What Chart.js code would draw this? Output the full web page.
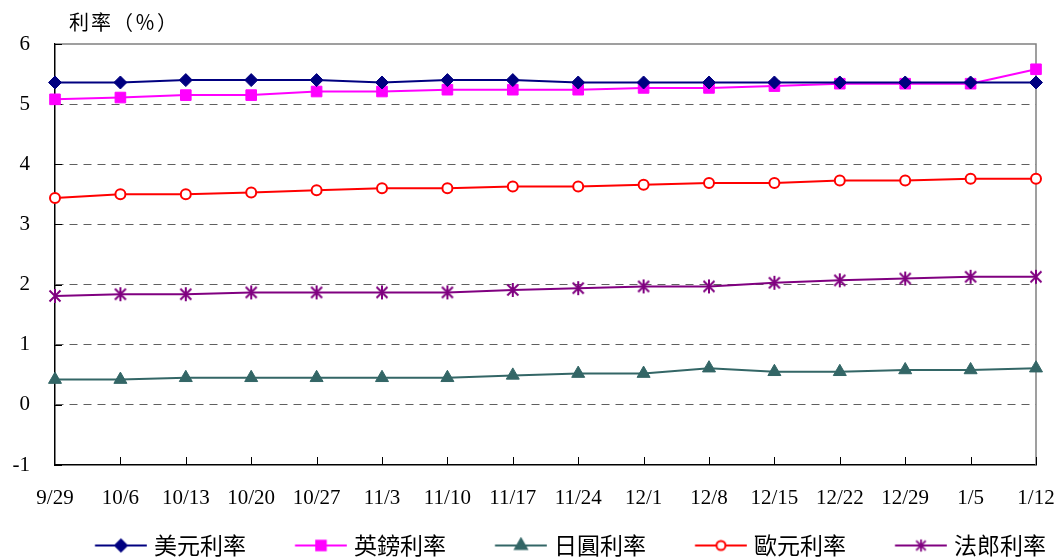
<!DOCTYPE html>
<html lang="zh-Hant">
<head>
<meta charset="UTF-8">
<title>利率</title>
<script src="https://cdn.jsdelivr.net/npm/chart.js"></script>
<style>
  html, body { margin: 0; padding: 0; background: #fff; }
  #wrap { width: 1062px; height: 558px; position: relative; }
</style>
</head>
<body>
<div id="wrap"><canvas id="rateChart"></canvas></div>
<script>
// 週別
const labels = ['9/29','10/6','10/13','10/20','10/27','11/3','11/10','11/17','11/24','12/1','12/8','12/15','12/22','12/29','1/5','1/12'];

// 各幣別利率 (%)
const usdRate = [5.36,5.36,5.40,5.40,5.40,5.36,5.40,5.40,5.36,5.36,5.36,5.36,5.36,5.36,5.36,5.36];
const gbpRate = [5.08,5.11,5.15,5.15,5.21,5.21,5.24,5.24,5.24,5.27,5.27,5.30,5.34,5.34,5.34,5.58];
const jpyRate = [0.42,0.42,0.45,0.45,0.45,0.45,0.45,0.49,0.52,0.52,0.61,0.55,0.55,0.58,0.58,0.61];
const eurRate = [3.44,3.50,3.50,3.53,3.57,3.60,3.60,3.63,3.63,3.66,3.69,3.69,3.73,3.73,3.76,3.76];
const chfRate = [1.81,1.84,1.84,1.87,1.87,1.87,1.87,1.91,1.94,1.97,1.97,2.03,2.07,2.10,2.13,2.13];

const seriesNames = ['美元利率','英鎊利率','日圓利率','歐元利率','法郎利率'];
const yTicks = [-1,0,1,2,3,4,5,6];

const serif = "'Liberation Serif', 'Times New Roman', serif";
const cjk = "'Noto Sans CJK TC', 'Noto Sans CJK SC', sans-serif";

// 法郎的星形標記
function starIcon(color) {
    const c = document.createElement('canvas');
    c.width = 16; c.height = 16;
    const g = c.getContext('2d');
    g.strokeStyle = color;
    g.lineWidth = 2;
    g.beginPath();
    g.moveTo(2.5, 2.5); g.lineTo(13.5, 13.5);
    g.moveTo(13.5, 2.5); g.lineTo(2.5, 13.5);
    g.moveTo(8, 1); g.lineTo(8, 15);
    g.stroke();
    return c;
}

const styles = [
    { color: '#000080', pointStyle: 'rectRot', radius: 6.5, fill: '#000080' },
    { color: '#FF00FF', pointStyle: 'rect', radius: 7.5, fill: '#FF00FF' },
    { color: '#336666', pointStyle: 'triangle', radius: 7.5, fill: '#336666' },
    { color: '#FF0000', pointStyle: 'circle', radius: 5, fill: '#FFFFFF' },
    { color: '#800080', pointStyle: starIcon('#800080'), radius: 6, fill: '#800080' }
];

// 圖例: 線 + 標記 (畫在畫布右側, 與文字間留約 7px)
const LEG_BOX = 86.5, LEG_W = 96, LEG_OFF = 43.75;
function legendIcon(s) {
    const c = document.createElement('canvas');
    c.width = LEG_W; c.height = 18;
    const g = c.getContext('2d');
    g.strokeStyle = s.color;
    g.lineWidth = 2;
    g.beginPath();
    g.moveTo(LEG_OFF, 9); g.lineTo(LEG_OFF + 52, 9);
    g.stroke();
    const cx = LEG_OFF + 26;
    if (typeof s.pointStyle === 'string') {
        g.fillStyle = s.fill;
        g.strokeStyle = s.color;
        g.lineWidth = 2;
        Chart.helpers.drawPoint(g, { pointStyle: s.pointStyle, radius: s.radius * 0.9, borderWidth: 2 }, cx, 9);
    } else {
        g.drawImage(s.pointStyle, cx - 7, 2, 14, 14);
    }
    return c;
}

const seriesData = [usdRate, gbpRate, jpyRate, eurRate, chfRate];

const datasets = seriesData.map((d, i) => ({
    label: seriesNames[i],
    data: d,
    borderColor: styles[i].color,
    backgroundColor: styles[i].fill,
    borderWidth: 2,
    pointStyle: styles[i].pointStyle,
    pointRadius: styles[i].radius,
    pointBorderWidth: i === 3 ? 2 : 1,
    pointBorderColor: styles[i].color,
    pointBackgroundColor: styles[i].fill,
    tension: 0
}));

// 外框與內側刻度
const framePlugin = {
    id: 'frame',
    beforeDatasetsDraw(chart) {
        const { ctx, chartArea: a, scales } = chart;
        ctx.save();
        ctx.strokeStyle = '#808080';
        ctx.lineWidth = 1.5;
        ctx.beginPath();
        ctx.moveTo(a.left, a.top); ctx.lineTo(a.right, a.top); ctx.lineTo(a.right, a.bottom);
        ctx.stroke();
        ctx.strokeStyle = '#000';
        ctx.lineWidth = 1;
        ctx.beginPath();
        scales.y.ticks.forEach(t => {
            const y = Math.round(scales.y.getPixelForValue(t.value)) + 0.5;
            ctx.moveTo(a.left, y); ctx.lineTo(a.left + 7, y);
        });
        for (let i = 1; i < labels.length; i++) {
            const x = Math.round(scales.x.getPixelForValue(i)) + 0.5;
            ctx.moveTo(x, a.bottom); ctx.lineTo(x, a.bottom - 8);
        }
        ctx.stroke();
        ctx.restore();
    },
    afterDraw(chart) {
        const { ctx } = chart;
        ctx.save();
        ctx.font = '20px ' + cjk;
        ctx.letterSpacing = '2px';
        ctx.fillStyle = '#000';
        ctx.textBaseline = 'middle';
        ctx.fillText('利率（％）', 69, 22);
        ctx.restore();
    },
    afterLayout(chart) {
        const lg = chart.legend;
        lg.left += 33; lg.right += 33;
        lg.top += 9; lg.bottom += 9;
    }
};

new Chart(document.getElementById('rateChart'), {
    type: 'line',
    data: { labels: labels, datasets: datasets },
    options: {
        responsive: true,
        maintainAspectRatio: false,
        animation: false,
        layout: { padding: { top: 44, right: 26, left: 0, bottom: 0 } },
        plugins: {
            title: { display: false },
            tooltip: { enabled: false },
            legend: {
                position: 'bottom',
                labels: {
                    usePointStyle: true,
                    pointStyleWidth: LEG_BOX,
                    padding: 10,
                    color: '#000',
                    font: { family: cjk, size: 23 },
                    generateLabels: (chart) => chart.data.datasets.map((ds, i) => ({
                        text: ds.label,
                        pointStyle: legendIcon(styles[i]),
                        fillStyle: styles[i].fill,
                        strokeStyle: styles[i].color,
                        lineWidth: 0,
                        hidden: false,
                        datasetIndex: i
                    }))
                }
            }
        },
        scales: {
            x: {
                offset: false,
                grid: { display: false },
                border: { display: true, color: '#000', width: 1.5 },
                ticks: {
                    color: '#000',
                    font: { family: serif, size: 21 },
                    padding: 13,
                    maxRotation: 0,
                    autoSkip: false
                },
                afterFit: (scale) => {
                    scale.height = 50;
                    scale.paddingLeft = 0;
                    scale.paddingRight = 0;
                }
            },
            y: {
                min: -1,
                max: 6,
                afterBuildTicks: (scale) => { scale.ticks = yTicks.map(v => ({ value: v })); },
                grid: {
                    drawTicks: false,
                    color: (ctx) => (ctx.tick && (ctx.tick.value === -1 || ctx.tick.value === 6)) ? 'transparent' : '#606060',
                    lineWidth: 1
                },
                border: { display: true, color: '#000', width: 1.5, dash: [8, 6] },
                ticks: {
                    color: '#000',
                    font: { family: serif, size: 21 },
                    padding: 25
                },
                afterFit: (scale) => { scale.width = 55; }
            }
        }
    },
    plugins: [framePlugin]
});
</script>
</body>
</html>
